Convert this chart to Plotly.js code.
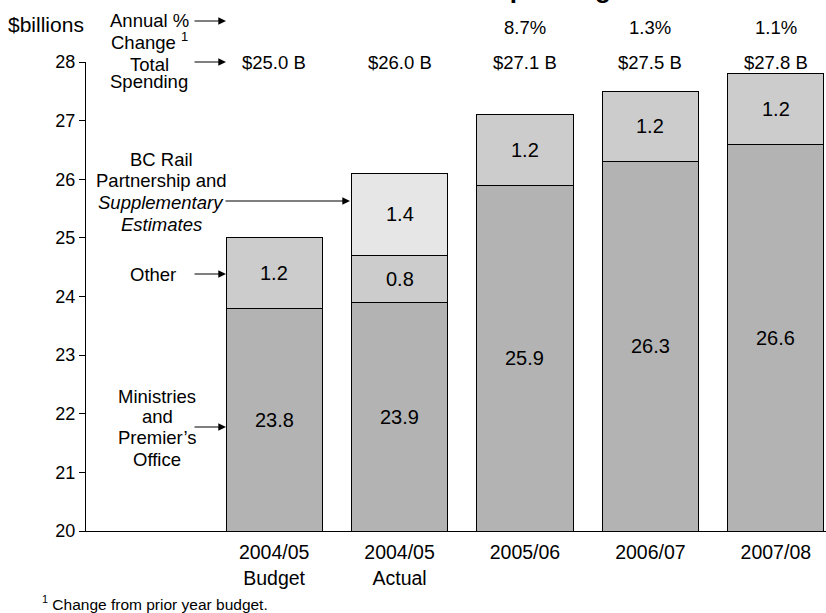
<!DOCTYPE html>
<html><head><meta charset="utf-8">
<script src="https://cdn.plot.ly/plotly-3.0.1.min.js"></script>
<style>html,body{margin:0;padding:0;overflow:hidden;background:#fff}</style>
</head><body><div id="chart" style="width:826px;height:613px"></div>
<script>
// ---- data ----
const blankCategory = ' ';
const years = ['2004/05<br>Budget', '2004/05<br>Actual', '2005/06', '2006/07', '2007/08'];
const ministries = [23.8, 23.9, 25.9, 26.3, 26.6];
const other = [1.2, 0.8, 1.2, 1.2, 1.2];
const bcRail = [null, 1.4, null, null, null];
const totalLabels = ['$25.0 B', '$26.0 B', '$27.1 B', '$27.5 B', '$27.8 B'];
const pctLabels = ['', '', '8.7%', '1.3%', '1.1%'];
const yRange = [20, 28];

// ---- layout helpers (pixel -> paper) ----
const L = 86, R = 826, T = 62, B = 531;
const PX = p => (p - L) / (R - L);
const PY = p => (B - p) / (B - T);
const FONT = 'Liberation Sans, Arial, sans-serif';
const f = (size) => ({family: FONT, size: size, color: '#000'});

const lineStyle = {color: '#000', width: 1};
const traces = [
  {type: 'bar', name: 'Ministries and Premier\u2019s Office', x: years, y: ministries,
   marker: {color: '#b3b3b3', line: lineStyle}, hoverinfo: 'y'},
  {type: 'bar', name: 'Other', x: years, y: other,
   marker: {color: '#cccccc', line: lineStyle}, hoverinfo: 'y'},
  {type: 'bar', name: 'BC Rail Partnership and Supplementary Estimates', x: years, y: bcRail,
   marker: {color: '#e6e6e6', line: lineStyle}, hoverinfo: 'y'}
];

const ann = [];
const txt = (x, y, text, opts = {}) => ann.push(Object.assign({
  xref: 'paper', yref: 'paper', x: PX(x), y: PY(y), text: text, showarrow: false,
  xanchor: 'center', yanchor: 'middle', font: f(18.5)
}, opts));
const lines = (x, ys, texts) => texts.forEach((t, k) => txt(x, ys[k], t));
const arrow = (xHead, y, len) => ann.push({
  xref: 'paper', yref: 'paper', x: PX(xHead), y: PY(y), text: '', showarrow: true,
  axref: 'pixel', ayref: 'pixel', ax: -len, ay: 0,
  arrowhead: 2, arrowsize: 1.4, arrowwidth: 1.1, arrowcolor: '#000'
});

// in-bar value labels, totals and annual changes
years.forEach((c, i) => {
  const m = ministries[i], o = other[i], b = bcRail[i];
  const base = {xref: 'x', yref: 'y', x: c, showarrow: false, xanchor: 'center', yanchor: 'middle', font: f(20)};
  ann.push(Object.assign({}, base, {y: (yRange[0] + m) / 2, text: m.toFixed(1)}));
  ann.push(Object.assign({}, base, {y: m + o / 2, text: o.toFixed(1)}));
  if (b) ann.push(Object.assign({}, base, {y: m + o + b / 2, text: b.toFixed(1)}));
  ann.push(Object.assign({}, base, {y: yRange[1], text: totalLabels[i], font: f(18.5)}));
  if (pctLabels[i]) ann.push(Object.assign({}, base, {yref: 'paper', y: PY(27), text: pctLabels[i], font: f(18.5)}));
});

// left-side labels
txt(46, 25, '$billions', {font: f(21)});
lines(149, [21, 41], ['Annual %', 'Change <sup>1</sup>']);
arrow(226, 21, 33);
lines(149, [64, 82], ['Total', 'Spending']);
arrow(226, 62, 33);
lines(161, [159, 180, 202, 224], ['BC Rail', 'Partnership and', '<i>Supplementary</i>', '<i>Estimates</i>']);
arrow(350, 201, 126);
txt(153, 274, 'Other');
arrow(226, 274, 33);
lines(157, [396, 416, 437, 459], ['Ministries', 'and', 'Premier\u2019s', 'Office']);
arrow(226, 427, 33);
// footnote
txt(40, 603, '<sup>1</sup> Change from prior year budget.', {xanchor: 'left', font: f(15.5)});
// title (cut off at the top of the picture)
txt(613, 5.5, '<b>Total Spending</b>', {xanchor: 'right', yanchor: 'bottom', font: f(26)});

const layout = {
  width: 826, height: 613,
  margin: {l: L, r: 826 - R, t: T, b: 613 - B, pad: 0},
  paper_bgcolor: '#fff', plot_bgcolor: '#fff',
  barmode: 'stack', bargap: 0.234, showlegend: false,
  font: f(18),
  xaxis: {type: 'category', categoryorder: 'array', categoryarray: [blankCategory].concat(years),
          range: [-0.5, 5.4], showline: true, linecolor: '#000', linewidth: 1,
          ticks: '', showgrid: false, zeroline: false, fixedrange: true,
          ticklabelstandoff: 4, tickfont: f(19.5)},
  yaxis: {range: yRange, dtick: 1, showline: true, linecolor: '#000', linewidth: 1,
          ticks: 'outside', ticklen: 6, tickcolor: '#000', showgrid: false, zeroline: false,
          fixedrange: true, tickfont: f(18)},
  annotations: ann
};
Plotly.newPlot('chart', traces, layout, {displayModeBar: false, staticPlot: true});
</script></body></html>
